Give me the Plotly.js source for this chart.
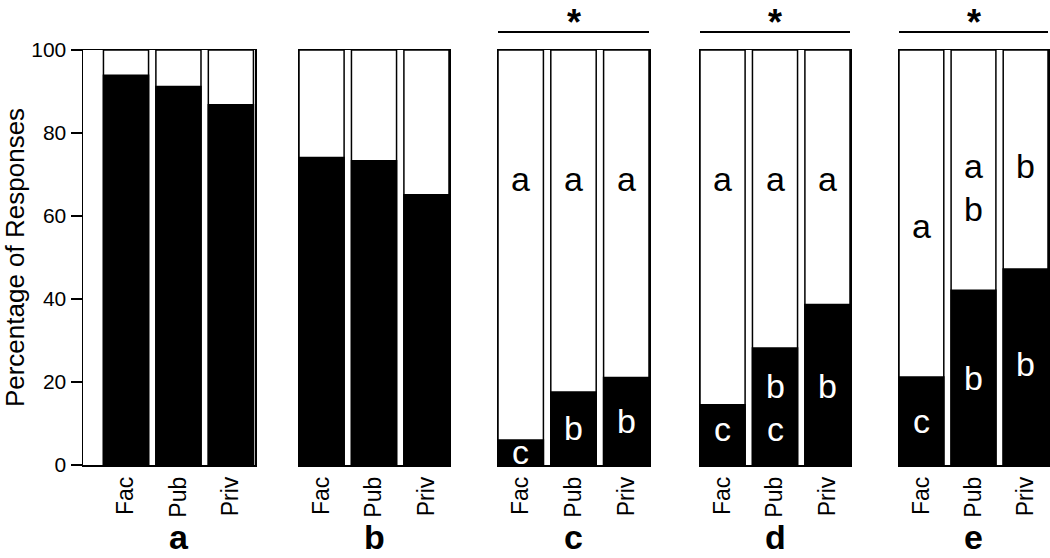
<!DOCTYPE html>
<html>
<head>
<meta charset="utf-8">
<script src="https://cdn.plot.ly/plotly-3.0.1.min.js"></script>
<style>html,body{margin:0;padding:0;background:#fff;}#chart{width:1050px;height:558px;}</style>
</head>
<body>
<div id="chart"></div>
<script>
// ---- data ----
const categories = ['Fac', 'Pub', 'Priv'];
const panelNames = ['a', 'b', 'c', 'd', 'e'];
const totals = [100, 100, 100];
const blackA = [93.9, 91.2, 86.8];
const blackB = [74.1, 73.3, 65.1];
const blackC = [6.0, 17.6, 21.1];
const blackD = [14.5, 28.2, 38.7];
const blackE = [21.2, 42.1, 47.2];
const significant = [false, false, true, true, true];
// group letters inside bars
const letterPanel = [2, 2, 2, 2, 2, 2, 3, 3, 3, 3, 3, 3, 3, 4, 4, 4, 4, 4, 4, 4];
const letterCat = ['Fac', 'Fac', 'Pub', 'Pub', 'Priv', 'Priv',
                   'Fac', 'Fac', 'Pub', 'Pub', 'Pub', 'Priv', 'Priv',
                   'Fac', 'Fac', 'Pub', 'Pub', 'Pub', 'Priv', 'Priv'];
const letterText = ['a', 'c', 'a', 'b', 'a', 'b',
                    'a', 'c', 'a', 'b', 'c', 'a', 'b',
                    'a', 'c', 'a', 'b', 'b', 'b', 'b'];
const letterOnBlack = [false, true, false, true, false, true,
                       false, true, false, true, true, false, true,
                       false, true, false, false, true, false, true];
const letterY = [69, 3.1, 69, 9, 69, 10.6,
                 69, 8.6, 69, 19, 8.6, 69, 19,
                 57.6, 10.6, 72, 61.6, 21, 72, 24.3];

// ---- layout ----
const blacks = [blackA, blackB, blackC, blackD, blackE];
const W = 1050, H = 558;
const panelPx = [[83, 255], [299, 449], [498, 649], [700, 850], [899, 1048]];
const ranges = [[-0.82, 2.46], [-0.43, 2.43], [-0.43, 2.43], [-0.43, 2.43], [-0.43, 2.43]];
const yDom = [1 - 465 / H, 1 - 50 / H];
const FONT = 'Liberation Sans, Arial, Helvetica, sans-serif';

const traces = [];
const layout = {
  width: W, height: H,
  margin: {l: 0, r: 0, t: 0, b: 0},
  paper_bgcolor: '#fff', plot_bgcolor: '#fff',
  showlegend: false,
  barmode: 'overlay',
  bargap: 0.14,
  font: {family: FONT, size: 20, color: '#000'},
  annotations: [], shapes: []
};

panelNames.forEach((name, i) => {
  const s = i === 0 ? '' : String(i + 1);
  const xa = 'x' + s, ya = 'y' + s;
  traces.push({
    type: 'bar', x: categories, y: totals, xaxis: xa, yaxis: ya,
    marker: {color: '#fff', line: {color: '#000', width: 1.5}}, hoverinfo: 'skip'
  });
  traces.push({
    type: 'bar', x: categories, y: blacks[i], xaxis: xa, yaxis: ya,
    marker: {color: '#000', line: {color: '#000', width: 1.5}}, hoverinfo: 'skip'
  });
  layout['xaxis' + s] = {
    domain: [panelPx[i][0] / W, panelPx[i][1] / W],
    anchor: ya, type: 'category', range: ranges[i],
    showline: true, linecolor: '#000', linewidth: 1.5, mirror: true,
    ticks: '', showgrid: false, zeroline: false,
    tickangle: -90, ticklabelstandoff: 1,
    tickfont: {family: FONT, size: 23, color: '#000'}
  };
  layout['yaxis' + s] = {
    domain: yDom, anchor: xa, range: [0, 100],
    showline: true, linecolor: '#000', linewidth: 1.5, mirror: true,
    showgrid: false, zeroline: false,
    ticks: i === 0 ? 'outside' : '', ticklen: 11, tickwidth: 1.5, tickcolor: '#000',
    showticklabels: i === 0, tickvals: [0, 20, 40, 60, 80, 100],
    tickfont: {family: FONT, size: 21, color: '#000'}
  };
  if (i === 0) {
    layout.yaxis.title = {text: 'Percentage of Responses', font: {family: FONT, size: 26, color: '#000'}, standoff: 11};
  }
  // panel letter
  layout.annotations.push({
    xref: xa + ' domain', yref: 'paper', x: i === 0 ? (126 - 83) / 172 + (52.5 / 172) : 0.5, y: 1 - 537 / H,
    text: '<b>' + name + '</b>', showarrow: false,
    font: {family: FONT, size: 34, color: '#000'}, xanchor: 'center', yanchor: 'middle'
  });
  if (significant[i]) {
    layout.shapes.push({
      type: 'line', xref: xa + ' domain', yref: 'paper',
      x0: 0, x1: 1, y0: 1 - 32 / H, y1: 1 - 32 / H,
      line: {color: '#000', width: 2}
    });
    layout.annotations.push({
      xref: xa + ' domain', yref: 'paper', x: 0.5, y: 1,
      text: '<b>*</b>', showarrow: false,
      font: {family: FONT, size: 36, color: '#000'}, xanchor: 'center', yanchor: 'top'
    });
  }
});

letterText.forEach((t, k) => {
  const p = letterPanel[k];
  const s = p === 0 ? '' : String(p + 1);
  layout.annotations.push({
    xref: 'x' + s, yref: 'y' + s, x: letterCat[k], y: letterY[k],
    text: t, showarrow: false,
    font: {family: FONT, size: 34, color: letterOnBlack[k] ? '#fff' : '#000'},
    xanchor: 'center', yanchor: 'middle'
  });
});

Plotly.newPlot('chart', traces, layout, {displayModeBar: false, staticPlot: true});
</script>
</body>
</html>
